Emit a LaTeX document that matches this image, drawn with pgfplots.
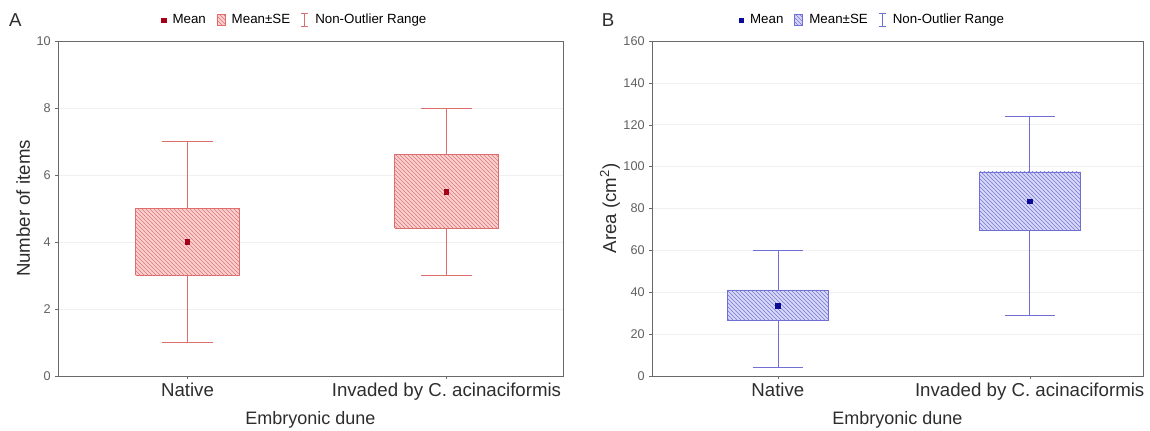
\documentclass[border=0pt]{standalone}
\usepackage{fontspec}
\setmainfont{Liberation Sans}
\usepackage{pgfplots}
\pgfplotsset{compat=1.18}
\usetikzlibrary{patterns}

\definecolor{lineA}{RGB}{220,110,110}
\definecolor{fillA}{RGB}{250,208,208}
\definecolor{hatchA}{RGB}{224,118,118}
\definecolor{meanA}{RGB}{165,0,25}
\definecolor{lineB}{RGB}{112,112,212}
\definecolor{fillB}{RGB}{216,216,247}
\definecolor{hatchB}{RGB}{118,118,214}
\definecolor{meanB}{RGB}{10,10,150}
\definecolor{axisgray}{RGB}{105,105,105}
\definecolor{txt}{RGB}{45,45,45}

\pgfplotsset{
  panel/.style={
    scale only axis, height=251.25pt,
    anchor=south west,
    xmin=-0.5, xmax=1.45, ymin=0,
    xtick={0,1}, xticklabels={Native, Invaded by C. acinaciformis},
    tick pos=left, tick align=outside, major tick length=2pt,
    axis line style={axisgray}, tick style={axisgray},
    ymajorgrids, grid style={gray!12},
    clip=false,
    /pgf/number format/assume math mode=true,
    yticklabel style={font=\fontsize{9.5}{11}\selectfont, text=gray!75!black},
    xticklabel style={font=\fontsize{14}{16}\selectfont, text=txt},
    xlabel={Embryonic dune},
    xlabel style={font=\fontsize{13.5}{16}\selectfont, text=txt,
      at={(axis description cs:0.5,0)}, anchor=center, yshift=-33pt},
    ylabel style={font=\fontsize{14}{16}\selectfont, text=txt, anchor=center},
    legend style={draw=none, fill=none, font=\fontsize{10}{12}\selectfont,
      legend columns=-1, at={(0.47,1)}, anchor=center, yshift=15.75pt,
      /tikz/every odd column/.append style={column sep=3pt},
      /tikz/every even column/.append style={column sep=6pt}},
  },
}

\begin{document}
\begin{tikzpicture}
\useasboundingbox (-43.5pt,-41.25pt) rectangle (819pt,282pt);

% panel A
\begin{axis}[panel, width=378.75pt, at={(0pt,0pt)}, ymax=10, ytick={0,2,...,10},
  ylabel={Number of items},
  ylabel style={at={(axis description cs:-0.069,0.5)}}]
\addlegendimage{only marks, mark=square*, mark size=1.6pt, color=meanA}
\addlegendimage{legend image code/.code={\draw[draw=lineA, fill=fillA, postaction={pattern=north west lines, pattern color=hatchA}] (0pt,-4.2pt) rectangle (6pt,4.2pt);}}
\addlegendimage{legend image code/.code={\draw[lineA] (3pt,-5pt)--(3pt,5pt) (0.3pt,-5pt)--(5.7pt,-5pt) (0.3pt,5pt)--(5.7pt,5pt);}}
% whiskers (non-outlier range)
\addplot[forget plot, lineA] coordinates {(0,1) (0,7)};
\addplot[forget plot, lineA] coordinates {(-0.1,1) (0.1,1)};
\addplot[forget plot, lineA] coordinates {(-0.1,7) (0.1,7)};
\addplot[forget plot, lineA] coordinates {(1,3) (1,8)};
\addplot[forget plot, lineA] coordinates {(0.9,3) (1.1,3)};
\addplot[forget plot, lineA] coordinates {(0.9,8) (1.1,8)};
% mean +- SE boxes
\addplot[forget plot, draw=lineA, fill=fillA, postaction={pattern=north west lines, pattern color=hatchA}]
  coordinates {(-0.2,3) (0.2,3) (0.2,5) (-0.2,5) (-0.2,3)};
\addplot[forget plot, draw=lineA, fill=fillA, postaction={pattern=north west lines, pattern color=hatchA}]
  coordinates {(0.8,4.42) (1.2,4.42) (1.2,6.62) (0.8,6.62) (0.8,4.42)};
% means
\addplot[forget plot, only marks, mark=square*, mark size=1.7pt, color=meanA]
  coordinates {(0,4) (1,5.5)};
\legend{Mean, Mean±SE, Non-Outlier Range}
\node[font=\fontsize{14}{16}\selectfont, text=txt] at ([xshift=-32pt, yshift=15.75pt]rel axis cs:0,1) {A};
\end{axis}

% panel B
\begin{axis}[panel, width=368.25pt, at={(445.5pt,0pt)}, ymax=160, ytick={0,20,...,160},
  ylabel={Area (cm\textsuperscript{2})},
  ylabel style={at={(axis description cs:-0.0855,0.5)}},
  legend style={at={(0.45,1)}}]
\addlegendimage{only marks, mark=square*, mark size=1.6pt, color=meanB}
\addlegendimage{legend image code/.code={\draw[draw=lineB, fill=fillB, postaction={pattern=north west lines, pattern color=hatchB}] (0pt,-4.2pt) rectangle (6pt,4.2pt);}}
\addlegendimage{legend image code/.code={\draw[lineB] (3pt,-5pt)--(3pt,5pt) (0.3pt,-5pt)--(5.7pt,-5pt) (0.3pt,5pt)--(5.7pt,5pt);}}
\addplot[forget plot, lineB] coordinates {(0,4) (0,60)};
\addplot[forget plot, lineB] coordinates {(-0.1,4) (0.1,4)};
\addplot[forget plot, lineB] coordinates {(-0.1,60) (0.1,60)};
\addplot[forget plot, lineB] coordinates {(1,29) (1,124)};
\addplot[forget plot, lineB] coordinates {(0.9,29) (1.1,29)};
\addplot[forget plot, lineB] coordinates {(0.9,124) (1.1,124)};
\addplot[forget plot, draw=lineB, fill=fillB, postaction={pattern=north west lines, pattern color=hatchB}]
  coordinates {(-0.2,26.5) (0.2,26.5) (0.2,41) (-0.2,41) (-0.2,26.5)};
\addplot[forget plot, draw=lineB, fill=fillB, postaction={pattern=north west lines, pattern color=hatchB}]
  coordinates {(0.8,69.5) (1.2,69.5) (1.2,97.5) (0.8,97.5) (0.8,69.5)};
\addplot[forget plot, only marks, mark=square*, mark size=1.7pt, color=meanB]
  coordinates {(0,33.5) (1,83.5)};
\legend{Mean, Mean±SE, Non-Outlier Range}
\node[font=\fontsize{14}{16}\selectfont, text=txt] at ([xshift=-33pt, yshift=15.75pt]rel axis cs:0,1) {B};
\end{axis}
\end{tikzpicture}
\end{document}
